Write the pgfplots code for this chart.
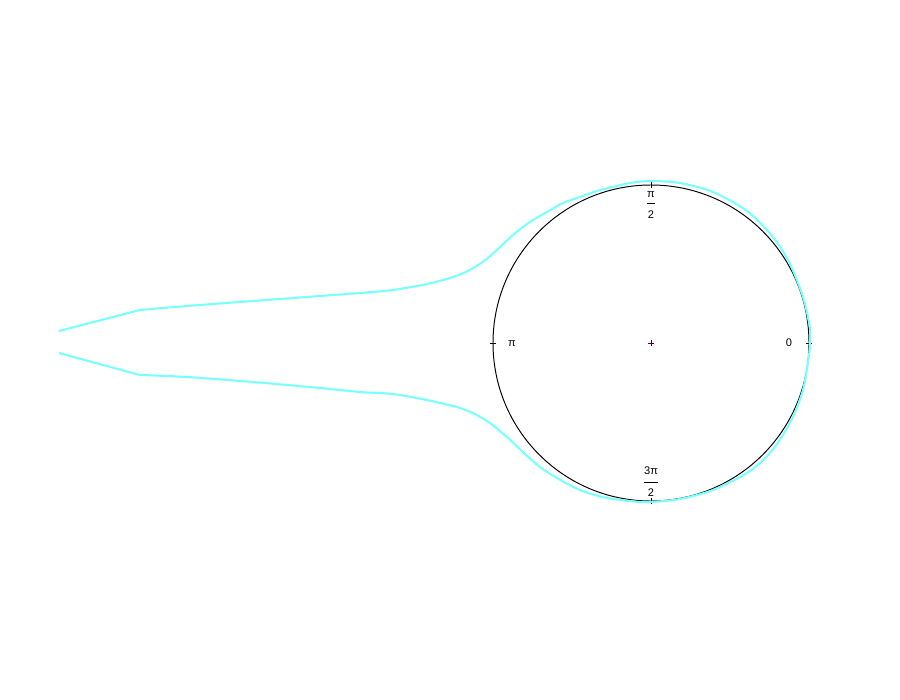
\documentclass[border=0pt]{standalone}
\usepackage{fontspec}
\setmainfont{Liberation Sans}
\usepackage{pgfplots}
\pgfplotsset{compat=1.18}
\definecolor{nyq}{RGB}{120,255,255}
\begin{document}
\begin{tikzpicture}
\begin{axis}[
  width=9in, height=7in, scale only axis,
  xmin=0, xmax=900, ymin=0, ymax=700, y dir=reverse,
  axis lines=none, clip=false,
]
\path (rel axis cs:0,0) rectangle (rel axis cs:1,1);
% unit circle
\draw[black, line width=0.7pt] (axis cs:651,343) circle [radius=158];
% ticks on circle
\addplot[black, line width=0.7pt, forget plot] coordinates {(651,182) (651,188)};
\addplot[black, line width=0.7pt, forget plot] coordinates {(651,498) (651,504)};
\addplot[black, line width=0.7pt, forget plot] coordinates {(490,343) (496,343)};
\addplot[black, line width=0.7pt, forget plot] coordinates {(806,343) (812,343)};
% centre
\addplot[only marks, mark=+, mark size=2.5pt, color={rgb,255:red,60;green,0;blue,60}, line width=0.7pt] coordinates {(651,343)};
% labels
\node[font=\fontsize{8}{9}\selectfont, inner sep=0pt] at (axis cs:651,194.5) {π};
\draw[black, line width=0.7pt] (axis cs:646.5,203) -- (axis cs:655,203);
\node[font=\fontsize{8}{9}\selectfont, inner sep=0pt] at (axis cs:651,214.5) {2};
\node[font=\fontsize{8}{9}\selectfont, inner sep=0pt] at (axis cs:651,470.5) {3π};
\draw[black, line width=0.7pt] (axis cs:644,482) -- (axis cs:657.5,482);
\node[font=\fontsize{8}{9}\selectfont, inner sep=0pt] at (axis cs:651,493) {2};
\node[font=\fontsize{8}{9}\selectfont] at (axis cs:512,344) {π};
\node[font=\fontsize{8}{9}\selectfont] at (axis cs:789,343) {0};
% Nyquist-like curve
\addplot[nyq, line width=1.5pt] coordinates {(59,331) (140,310)};
\addplot[nyq, line width=1.5pt, smooth, tension=0.5] coordinates {
(140,310) (187,306) (253,301) (320,296) (360,293) (393,290) (427,284) (450,278)
(468,271) (484,261) (497,250) (513,235) (530,222) (547,212) (563,203) (580,197) (597,191)
(613,187) (630,183) (651,181) (680,183) (713,192) (747,211) (773,237) (790,264)
(803,297) (810,328) (810,343) (809,355) (803,390) (790,423) (770,453) (747,473)
(713,490) (680,499) (651,502) (640,502) (607,498) (580,490) (557,478) (540,467)
(523,452) (507,437) (490,423) (473,413) (457,407) (440,403) (427,400) (393,394)
(360,392) (320,388) (253,382) (187,377) (140,375)};
\addplot[nyq, line width=1.5pt] coordinates {(140,375) (59,353)};
\end{axis}
\end{tikzpicture}
\end{document}
